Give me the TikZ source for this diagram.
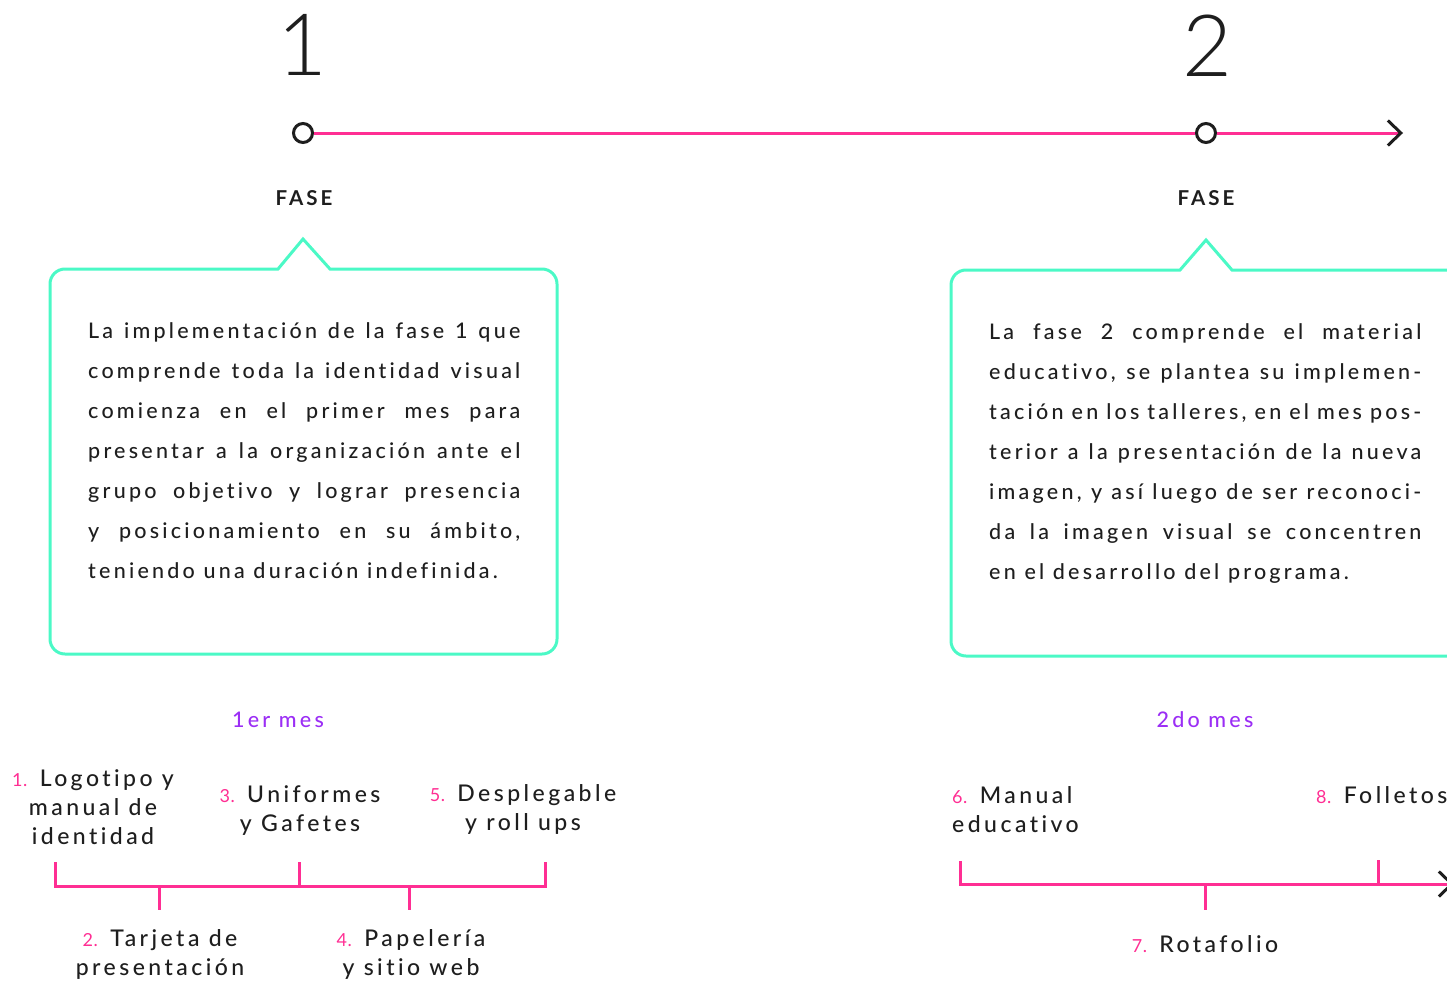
\documentclass[tikz,border=0pt]{standalone}
\usepackage{fontspec}
\setmainfont{Lato}
\newfontfamily\spacedfont{Lato Medium}[LetterSpace=15,Ligatures={NoCommon,NoRare,NoDiscretionary},BoldFont={Lato Bold}]
\newfontfamily\thinfont{Lato Light}
\newfontfamily\numfont{Lato}[LetterSpace=3]
\usepackage{tikz}
\usetikzlibrary{arrows.meta,positioning}
\definecolor{linepink}{HTML}{FF2E93}
\definecolor{boxgreen}{HTML}{4BF9C6}
\definecolor{mespurple}{HTML}{9B2EF5}
\definecolor{inkgray}{HTML}{1E1E1E}
\newcommand{\fullline}[1]{\makebox[432pt][s]{#1}}
\newcommand{\itemno}[1]{{\numfont\fontsize{18}{18}\selectfont\color{linepink}#1}}

\begin{document}
\begin{tikzpicture}[x=1pt,y=-1pt,
  phasedot/.style={circle,draw=inkgray,fill=white,line width=3pt,minimum size=19pt,inner sep=0pt},
  phasenum/.style={font=\thinfont\fontsize{86}{86}\selectfont,text=inkgray,inner sep=0pt,anchor=base},
  phasename/.style={font=\spacedfont\bfseries\fontsize{20.5}{20}\selectfont,text=inkgray,inner sep=0pt},
  bubble/.style={draw=boxgreen,line width=3pt},
  pinkline/.style={draw=linepink,line width=3pt},
  bodytext/.style={font=\spacedfont\fontsize{21.5}{40}\selectfont,text=inkgray,align=left,inner sep=0pt,anchor=north west},
  mesname/.style={font=\spacedfont\fontsize{21.5}{20}\selectfont,text=mespurple,inner sep=0pt},
  itemlabel/.style={font=\spacedfont\fontsize{23}{29}\selectfont,text=inkgray,align=center,inner sep=0pt,anchor=north}]
\useasboundingbox (0,0) rectangle (1447,982);
\clip (0,0) rectangle (1447,982);

\node[phasenum] (n1) at (302,75) {1};
\node[phasenum] (n2) at (1207,76) {2};
\node[phasedot] (p1) at (303,133) {};
\node[phasedot] (p2) at (1206,133) {};
\coordinate (tend) at (1403,133);
\draw[pinkline] (p1) -- (p2);
\draw[pinkline,-{Straight Barb[length=13pt,width=25pt,line width=3pt,color=inkgray]}] (p2) -- (tend);
\node[phasename] (f1) at (304,198) {FASE};
\node[phasename] (f2) at (1206,198) {FASE};

\draw[bubble] (303,239) -- (330,269) [rounded corners=15pt] -- (557,269) -- (557,654) -- (50,654) -- (50,269) [sharp corners] -- (278,269) -- cycle;
\draw[bubble] (1206,240) -- (1232,270) [rounded corners=15pt] -- (1470,270) -- (1470,656) -- (951,656) -- (951,270) [sharp corners] -- (1180,270) -- cycle;

\node[bodytext] (t1) at (88,322) {\fullline{La implementación de la fase 1 que}\\
  \fullline{comprende toda la identidad visual}\\
  \fullline{comienza en el primer mes para}\\
  \fullline{presentar a la organización ante el}\\
  \fullline{grupo objetivo y lograr presencia}\\
  \fullline{y posicionamiento en su ámbito,}\\
  teniendo una duración indefinida.};
\node[bodytext] (t2) at (989,323) {\fullline{La fase 2 comprende el material}\\
  \fullline{educativo, se plantea su implemen-}\\
  \fullline{tación en los talleres, en el mes pos-}\\
  \fullline{terior a la presentación de la nueva}\\
  \fullline{imagen, y así luego de ser reconoci-}\\
  \fullline{da la imagen visual se concentren}\\
  en el desarrollo del programa.};

\node[mesname] (m1) at (278,720) {1er mes};
\node[mesname] (m2) at (1205,720) {2do mes};

\draw[pinkline] (55,862) -- (55,886) -- (545,886) -- (545,862);
\foreach \x in {299} \draw[pinkline] (\x,862) -- (\x,886);
\foreach \x in {159,409} \draw[pinkline] (\x,886) -- (\x,910);
\node[itemlabel] (i1) at (93,769) {\itemno{1.} Logotipo y\\manual de\\identidad};
\node[itemlabel] (i2) at (160,929) {\itemno{2.} Tarjeta de\\presentación};
\node[itemlabel] (i3) at (300,785) {\itemno{3.} Uniformes\\y Gafetes};
\node[itemlabel] (i4) at (411,929) {\itemno{4.} Papelería\\y sitio web};
\node[itemlabel] (i5) at (523,784) {\itemno{5.} Desplegable\\y roll ups};

\coordinate (bend) at (1454,884);
\draw[pinkline,-{Straight Barb[length=13pt,width=25pt,line width=3pt,color=inkgray]}] (960,861) -- (960,884) -- (bend);
\draw[pinkline] (1378,860) -- (1378,884);
\draw[pinkline] (1205,884) -- (1205,910);
\node[itemlabel,align=left,anchor=north west] (i6) at (952,786) {\itemno{6.} Manual\\educativo};
\node[itemlabel] (i7) at (1205,935) {\itemno{7.} Rotafolio};
\node[itemlabel,anchor=north west] (i8) at (1316,786) {\itemno{8.} Folletos};
\end{tikzpicture}
\end{document}
